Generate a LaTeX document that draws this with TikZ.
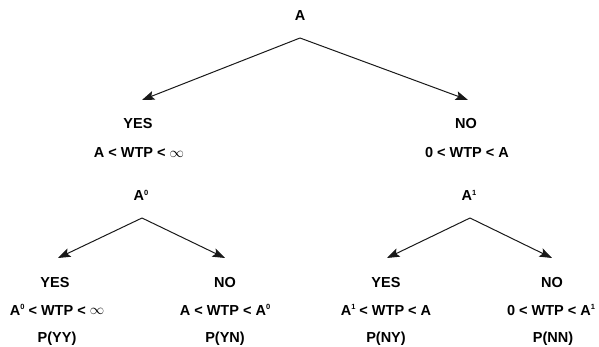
\documentclass[tikz,border=0pt]{standalone}
\usepackage{fontspec}
\setmainfont{Liberation Sans}
\usetikzlibrary{arrows.meta}
\newcommand\supx[1]{\raisebox{5.5pt}{\fontsize{7.5}{7.5}\selectfont #1}}
\newcommand\infsym{\raisebox{0.3pt}{\fontsize{13.5}{12}\selectfont$\infty$}}
\tikzset{
  lbl/.style={anchor=base, inner sep=0pt, font=\fontsize{14.5}{16}\selectfont\bfseries},
  arr/.style={-{Stealth[length=12.5pt,width=9pt,inset=2.5pt]}, line width=1pt, black!90},
}
\begin{document}
\begin{tikzpicture}[x=1pt,y=-1pt]
\useasboundingbox (0,0) rectangle (599,347);
% top
\node[lbl] (A) at (300,21) {A};
\coordinate (apA) at (300,38);
\coordinate (tY) at (142,100);
\coordinate (tN) at (468,100);
\draw[arr] (apA) -- (tY);
\draw[arr] (apA) -- (tN);
% level 2
\node[lbl] (yes1) at (138,129) {YES};
\node[lbl] (r1) at (139,158) {A < WTP < \infsym};
\node[lbl] (no1) at (466,129) {NO};
\node[lbl] (r2) at (467,158) {0 < WTP < A};
% level 3 heads
\node[lbl] (A0) at (141,201) {A\supx{0}};
\coordinate (ap0) at (142,218);
\node[lbl] (A1) at (469,201) {A\supx{1}};
\coordinate (ap1) at (470,218);
\coordinate (tYY) at (58,258);
\coordinate (tYN) at (225,258);
\coordinate (tNY) at (387,258);
\coordinate (tNN) at (552,258);
\draw[arr] (ap0) -- (tYY);
\draw[arr] (ap0) -- (tYN);
\draw[arr] (ap1) -- (tNY);
\draw[arr] (ap1) -- (tNN);
% leaves
\node[lbl] (yy1) at (55,287) {YES};
\node[lbl] (yy2) at (57,315) {A\supx{0} < WTP < \infsym};
\node[lbl] (yy3) at (57,342) {P(YY)};
\node[lbl] (yn1) at (225,287) {NO};
\node[lbl] (yn2) at (225,315) {A < WTP < A\supx{0}};
\node[lbl] (yn3) at (225,342) {P(YN)};
\node[lbl] (ny1) at (386,287) {YES};
\node[lbl] (ny2) at (386,315) {A\supx{1} < WTP < A};
\node[lbl] (ny3) at (386,342) {P(NY)};
\node[lbl] (nn1) at (552,287) {NO};
\node[lbl] (nn2) at (551,315) {0 < WTP < A\supx{1}};
\node[lbl] (nn3) at (553,342) {P(NN)};
\end{tikzpicture}
\end{document}
